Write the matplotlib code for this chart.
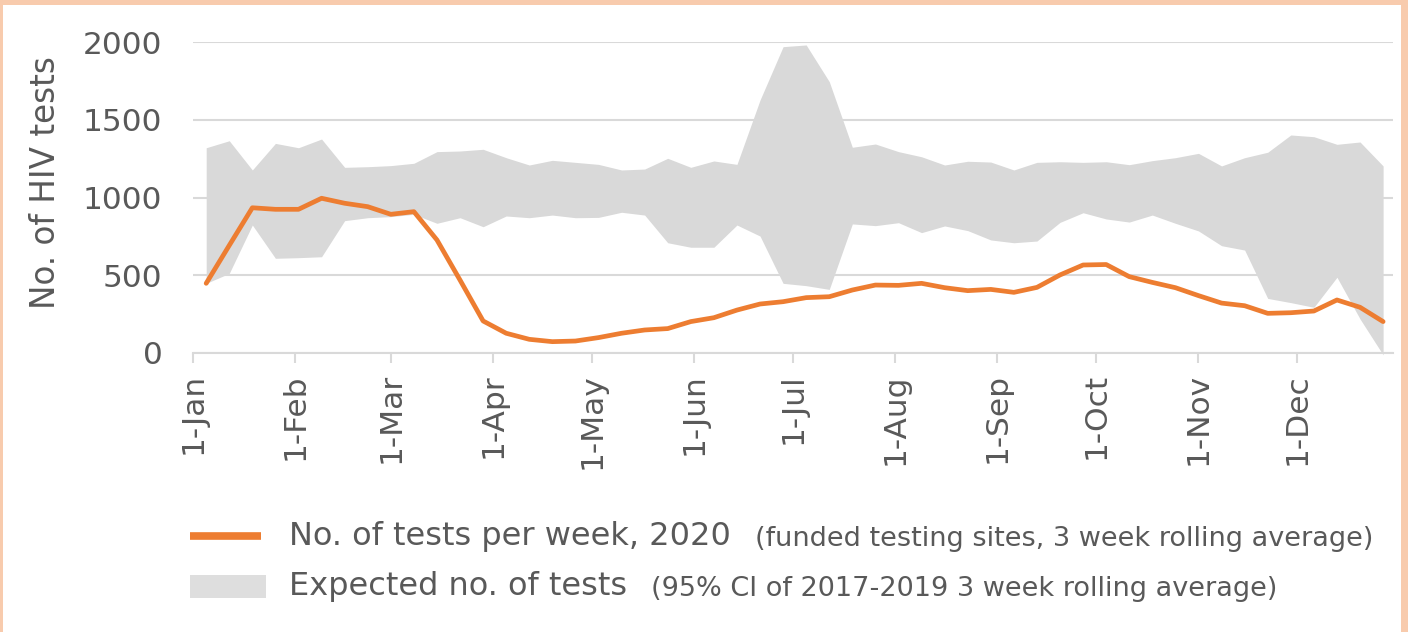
import matplotlib
matplotlib.use("Agg")
import matplotlib.pyplot as plt
from matplotlib.lines import Line2D
from matplotlib.patches import Rectangle
import pandas as pd

# ---- data ----
week_start = "2020-01-05"
tests_2020 = [448, 692, 934, 924, 924, 995, 963, 941, 892, 909, 727, 469, 206,
              127, 88, 73, 77, 99, 127, 148, 157, 202, 227, 276, 315, 330,
              356, 362, 405, 437, 435, 448, 420, 401, 409, 390, 422, 502, 566,
              569, 491, 454, 420, 369, 321, 304, 255, 259, 270, 341, 294, 202]
expected_upper = [1320, 1365, 1177, 1348, 1320, 1376, 1194, 1198, 1205, 1220,
                  1295, 1299, 1310, 1256, 1209, 1239, 1226, 1213, 1177, 1183,
                  1252, 1194, 1235, 1213, 1627, 1970, 1981, 1745, 1323, 1344,
                  1295, 1262, 1209, 1233, 1228, 1177, 1226, 1230, 1226, 1230,
                  1211, 1237, 1256, 1284, 1203, 1256, 1291, 1402, 1391, 1342,
                  1357, 1203]
expected_lower = [448, 512, 823, 609, 613, 619, 851, 870, 877, 892, 834, 870,
                  812, 881, 870, 887, 870, 872, 905, 887, 709, 680, 680, 823,
                  752, 448, 433, 409, 830, 819, 838, 774, 817, 787, 727, 709,
                  720, 840, 902, 862, 842, 887, 834, 785, 690, 662, 351, 324,
                  294, 487, 219, -12]
month_ticks = ["2020-01-01", "2020-02-01", "2020-03-01", "2020-04-01",
               "2020-05-01", "2020-06-01", "2020-07-01", "2020-08-01",
               "2020-09-01", "2020-10-01", "2020-11-01", "2020-12-01"]
month_labels = ["1-Jan", "1-Feb", "1-Mar", "1-Apr", "1-May", "1-Jun",
                "1-Jul", "1-Aug", "1-Sep", "1-Oct", "1-Nov", "1-Dec"]
y_ticks = [0, 500, 1000, 1500, 2000]

series_label = "No. of tests per week, 2020"
series_note = "(funded testing sites, 3 week rolling average)"
band_label = "Expected no. of tests"
band_note = "(95% CI of 2017-2019 3 week rolling average)"

dates = pd.date_range(week_start, periods=len(tests_2020), freq="7D")

ORANGE = "#ED7D31"
GREY = "#D9D9D9"
TEXT = "#595959"
PEACH = "#F8CBAD"

plt.rcParams["font.family"] = ["DejaVu Sans"]

W, H = 1408, 632
fig = plt.figure(figsize=(W / 100, H / 100), dpi=100)
fig.patch.set_facecolor("white")

ax = fig.add_axes([193 / W, 1 - 353 / H, 1200 / W, 311 / H])
ax.fill_between(dates, expected_lower, expected_upper, color=GREY,
                linewidth=0, zorder=2, clip_on=False)
ax.plot(dates, tests_2020, color=ORANGE, lw=3.4, zorder=3,
        solid_joinstyle="round", solid_capstyle="round")

ax.set_ylim(0, 2000)
ax.set_xlim(pd.Timestamp("2020-01-01"), pd.Timestamp("2020-12-30"))
ax.set_yticks(y_ticks)
ax.set_yticklabels([str(v) for v in y_ticks])
ax.set_xticks(pd.to_datetime(month_ticks))
ax.set_xticklabels(month_labels, rotation=90, va="top", ha="center")

ax.grid(axis="y", color=GREY, lw=1.5, zorder=1)
ax.set_axisbelow(True)
for s in ["top", "right", "left"]:
    ax.spines[s].set_visible(False)
ax.spines["bottom"].set_color(GREY)
ax.spines["bottom"].set_linewidth(1.5)
ax.spines["bottom"].set_zorder(1)

ax.tick_params(axis="y", length=0, pad=22, labelsize=22.5, labelcolor=TEXT)
ax.tick_params(axis="x", length=7.5, width=1.5, color=GREY, pad=7,
               labelsize=22.5, labelcolor=TEXT)

ax.set_ylabel("No. of HIV tests", fontsize=23.5, color=TEXT)
ax.yaxis.set_label_coords(-0.123, 0.548)
ax.yaxis.label.set_va("center")

# ---- legend (manual, figure pixel coords) ----
def fx(px):
    return px / W

def fy(py):
    return 1 - py / H

fig.add_artist(Line2D([fx(190), fx(261)], [fy(536), fy(536)], color=ORANGE,
                      lw=5.5, solid_capstyle="butt"))
fig.add_artist(Rectangle((fx(190), fy(598)), fx(266) - fx(190),
                         fy(575) - fy(598), facecolor="#DEDEDE",
                         edgecolor="none"))

fig.canvas.draw()
renderer = fig.canvas.get_renderer()

t1 = fig.text(fx(289), fy(537), series_label, fontsize=23, color=TEXT,
              va="center", ha="left")
e1 = t1.get_window_extent(renderer)
fig.text(e1.x1 / W + fx(24), fy(539), series_note, fontsize=19.5,
         color=TEXT, va="center", ha="left")

t2 = fig.text(fx(289), fy(587), band_label, fontsize=23, color=TEXT,
              va="center", ha="left")
e2 = t2.get_window_extent(renderer)
fig.text(e2.x1 / W + fx(24), fy(589), band_note, fontsize=19.5,
         color=TEXT, va="center", ha="left")

# ---- peach border (top, left, right) ----
fig.add_artist(Rectangle((0, fy(5)), 1, fy(0) - fy(5), facecolor=PEACH,
                         edgecolor="none"))
fig.add_artist(Rectangle((0, 0), fx(3), 1, facecolor=PEACH, edgecolor="none"))
fig.add_artist(Rectangle((fx(1401), 0), fx(7), 1, facecolor=PEACH,
                         edgecolor="none"))

fig.savefig("out.png", dpi=100)
